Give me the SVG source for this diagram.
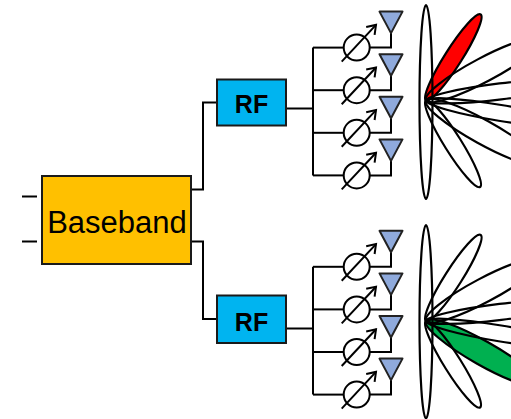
<svg xmlns="http://www.w3.org/2000/svg" xmlns:xlink="http://www.w3.org/1999/xlink" width="511" height="419" viewBox="0 0 511 419">
  <style>
    .box { stroke: #1a1a1a; stroke-width: 2; }
    .wire { fill: none; stroke: #000; stroke-width: 2; }
    .lobe { fill: none; stroke: #000; stroke-width: 2.2; }
    .label { font-family: "Liberation Sans", Arial, sans-serif; fill: #000; text-anchor: middle; }
  </style>
  <defs>
    <!-- phase shifter: circle with a tuning arrow, centred on the branch line -->
    <g id="shifter" fill="none" stroke="#000" stroke-width="2">
      <circle cx="0" cy="0" r="13" fill="#fff"/>
      <line x1="-15" y1="14" x2="19.3" y2="-22.7"/>
      <polyline points="9.5,-20.6 19.3,-22.7 17.9,-12.8"/>
    </g>
    <!-- antenna element -->
    <polygon id="antenna" points="-11.5,-21.5 11.5,-21.5 0,0" fill="#8FAADC" stroke="#222" stroke-width="2" stroke-linejoin="round"/>
    <!-- beam lobes, anchored at the array origin and pointing along +x -->
    <ellipse id="lobe" cx="51" cy="0" rx="51" ry="8.5"/>
    <ellipse id="lobeMid" cx="65" cy="0" rx="65" ry="12"/>
    <ellipse id="lobeLong" cx="75" cy="0" rx="75" ry="8"/>
  </defs>

  <!-- connectors -->
  <g id="connectors" class="wire">
    <line x1="22" y1="196.5" x2="37" y2="196.5"/>
    <line x1="22" y1="241.5" x2="37" y2="241.5"/>
    <polyline points="191,189.5 203,189.5 203,102.5 217,102.5"/>
    <polyline points="191,241.5 203,241.5 203,319 217,319"/>
    <!-- upper RF feed and distribution bus -->
    <line x1="286" y1="108.5" x2="313" y2="108.5"/>
    <line x1="313" y1="47.6" x2="313" y2="175.4"/>
    <!-- lower RF feed and distribution bus -->
    <line x1="286" y1="328.5" x2="313" y2="328.5"/>
    <line x1="313" y1="266.8" x2="313" y2="394.6"/>
  </g>

  <g id="baseband">
    <rect class="box" x="42" y="176" width="149" height="88" fill="#FFC000"/>
    <text class="label" x="117" y="233" font-size="31">Baseband</text>
  </g>

  <g id="rf-upper">
    <rect class="box" x="217" y="79.5" width="69" height="46" fill="#00B4F0"/>
    <text class="label" x="251.5" y="113.3" font-size="25" font-weight="bold">RF</text>
  </g>

  <g id="rf-lower">
    <rect class="box" x="217" y="295.5" width="69" height="47.5" fill="#00B4F0"/>
    <text class="label" x="251.5" y="330.8" font-size="25" font-weight="bold">RF</text>
  </g>

  <!-- upper array: four branches, phase shifter then antenna -->
  <g id="array-upper">
    <g id="branch-u1" transform="translate(0,47.6)">
      <polyline class="wire" points="313,0 344,0"/>
      <polyline class="wire" points="369.5,0 391,0 391,-14.5"/>
      <use xlink:href="#shifter" x="356.7" y="0"/>
      <use xlink:href="#antenna" x="391" y="-14.5"/>
    </g>
    <g id="branch-u2" transform="translate(0,90.2)">
      <polyline class="wire" points="313,0 344,0"/>
      <polyline class="wire" points="369.5,0 391,0 391,-14.5"/>
      <use xlink:href="#shifter" x="356.7" y="0"/>
      <use xlink:href="#antenna" x="391" y="-14.5"/>
    </g>
    <g id="branch-u3" transform="translate(0,132.8)">
      <polyline class="wire" points="313,0 344,0"/>
      <polyline class="wire" points="369.5,0 391,0 391,-14.5"/>
      <use xlink:href="#shifter" x="356.7" y="0"/>
      <use xlink:href="#antenna" x="391" y="-14.5"/>
    </g>
    <g id="branch-u4" transform="translate(0,175.4)">
      <polyline class="wire" points="313,0 344,0"/>
      <polyline class="wire" points="369.5,0 391,0 391,-14.5"/>
      <use xlink:href="#shifter" x="356.7" y="0"/>
      <use xlink:href="#antenna" x="391" y="-14.5"/>
    </g>
  </g>

  <!-- lower array -->
  <g id="array-lower">
    <g id="branch-l1" transform="translate(0,266.8)">
      <polyline class="wire" points="313,0 344,0"/>
      <polyline class="wire" points="369.5,0 391,0 391,-14.5"/>
      <use xlink:href="#shifter" x="356.7" y="0"/>
      <use xlink:href="#antenna" x="391" y="-14.5"/>
    </g>
    <g id="branch-l2" transform="translate(0,309.4)">
      <polyline class="wire" points="313,0 344,0"/>
      <polyline class="wire" points="369.5,0 391,0 391,-14.5"/>
      <use xlink:href="#shifter" x="356.7" y="0"/>
      <use xlink:href="#antenna" x="391" y="-14.5"/>
    </g>
    <g id="branch-l3" transform="translate(0,352)">
      <polyline class="wire" points="313,0 344,0"/>
      <polyline class="wire" points="369.5,0 391,0 391,-14.5"/>
      <use xlink:href="#shifter" x="356.7" y="0"/>
      <use xlink:href="#antenna" x="391" y="-14.5"/>
    </g>
    <g id="branch-l4" transform="translate(0,394.6)">
      <polyline class="wire" points="313,0 344,0"/>
      <polyline class="wire" points="369.5,0 391,0 391,-14.5"/>
      <use xlink:href="#shifter" x="356.7" y="0"/>
      <use xlink:href="#antenna" x="391" y="-14.5"/>
    </g>
  </g>

  <!-- upper beam pattern: selected beam in red -->
  <g id="beams-upper" transform="translate(426,100.5)">
    <use xlink:href="#lobe" transform="rotate(-57.6)" fill="#FF0000" stroke="#000" stroke-width="2.2"/>
    <ellipse class="lobe" cx="0" cy="1.5" rx="6.5" ry="97"/>
    <use xlink:href="#lobeMid" class="lobe" transform="rotate(-28)"/>
    <use xlink:href="#lobeLong" class="lobe" transform="rotate(-7)"/>
    <use xlink:href="#lobeLong" class="lobe" transform="rotate(9.5)"/>
    <use xlink:href="#lobeMid" class="lobe" transform="rotate(29)"/>
    <use xlink:href="#lobe" class="lobe" transform="rotate(58)"/>
  </g>

  <!-- lower beam pattern: selected beam in green -->
  <g id="beams-lower" transform="translate(426,321)">
    <use xlink:href="#lobeMid" transform="rotate(29.5)" fill="#00B050" stroke="#000" stroke-width="2.2"/>
    <ellipse class="lobe" cx="0" cy="0.7" rx="6.5" ry="96.7"/>
    <use xlink:href="#lobe" class="lobe" transform="rotate(-57.6)"/>
    <use xlink:href="#lobeMid" class="lobe" transform="rotate(-28)"/>
    <use xlink:href="#lobeLong" class="lobe" transform="rotate(-7)"/>
    <use xlink:href="#lobeLong" class="lobe" transform="rotate(9.5)"/>
    <use xlink:href="#lobe" class="lobe" transform="rotate(58)"/>
  </g>
</svg>
